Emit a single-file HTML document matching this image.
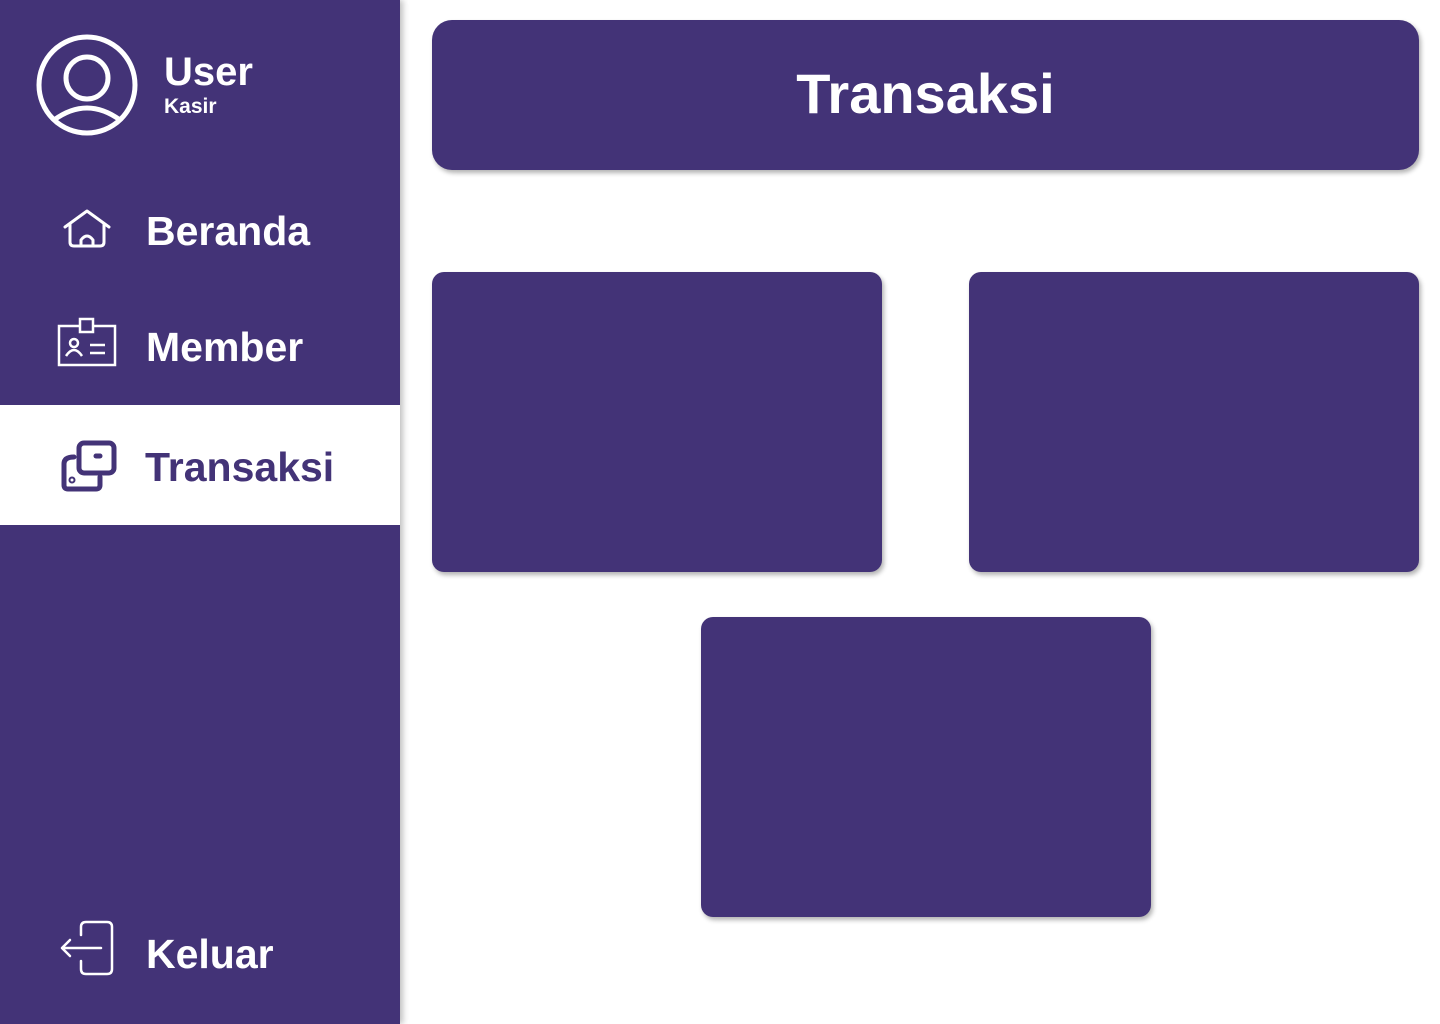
<!DOCTYPE html>
<html><head><meta charset="utf-8"><style>
*{margin:0;padding:0;box-sizing:border-box}
body{width:1440px;height:1024px;background:#fff;position:relative;overflow:hidden;font-family:"Liberation Sans",sans-serif;font-weight:bold}
.side{position:absolute;left:0;top:0;width:400px;height:1024px;background:#433377;box-shadow:3px 0 6px rgba(0,0,0,.25)}
.active{position:absolute;left:0;top:405px;width:400px;height:120px;background:#fff}
.t{position:absolute;color:#fff;white-space:nowrap;line-height:1}
.box{position:absolute;background:#433377;border-radius:12px;box-shadow:2px 3px 5px rgba(0,0,0,.3)}
svg{position:absolute}
</style></head><body>
<div class="side"></div>
<div class="active"></div>
<svg style="left:36px;top:34px" width="102" height="102" viewBox="0 0 102 102" fill="none" stroke="#fff" stroke-width="5">
<circle cx="51" cy="51" r="48"/><circle cx="51" cy="44" r="21"/><path d="M18 86 Q51 62 84 86"/></svg>
<div class="t" style="left:164px;top:52px;font-size:40px">User</div>
<div class="t" style="left:164px;top:96px;font-size:21px">Kasir</div>
<svg style="left:62px;top:208px" width="50" height="42" viewBox="0 0 50 42" fill="none" stroke="#fff" stroke-width="3" stroke-linejoin="round" stroke-linecap="round">
<path d="M3 19 L25 3 L47 19"/><path d="M8 16 V34 Q8 38 12 38 H38 Q42 38 42 34 V16"/><path d="M19 38 V32 Q25 24 31 32 V38"/></svg>
<div class="t" style="left:146px;top:211px;font-size:41px">Beranda</div>
<svg style="left:57px;top:317px" width="60" height="50" viewBox="0 0 60 50" fill="none" stroke="#fff" stroke-width="2.5">
<rect x="2" y="9" width="56" height="39"/><rect x="23" y="2" width="13" height="13" fill="#433377"/><circle cx="17" cy="26" r="4"/><path d="M9 39 Q17 27 25 39"/><path d="M33 28 H48 M33 36 H48"/></svg>
<div class="t" style="left:146px;top:327px;font-size:41px">Member</div>
<svg style="left:60px;top:440px" width="58" height="52" viewBox="0 0 58 52" fill="none" stroke="#433377" stroke-width="5" stroke-linecap="round" stroke-linejoin="round">
<rect x="19" y="3" width="35" height="30" rx="5"/><path d="M36 16 h4"/><path d="M14 17 Q4 17 4 24 V45 Q4 49 8 49 H36 Q40 49 40 45 V37"/><circle cx="12" cy="40" r="1"/></svg>
<div class="t" style="left:145px;top:447px;font-size:41px;color:#433377">Transaksi</div>
<svg style="left:58px;top:919px" width="58" height="58" viewBox="0 0 58 58" fill="none" stroke="#fff" stroke-width="2.5" stroke-linecap="round" stroke-linejoin="round">
<path d="M23 16 V8 Q23 3 28 3 H49 Q54 3 54 8 V50 Q54 55 49 55 H28 Q23 55 23 50 V42"/><path d="M43 29 H4 M12 21 L4 29 L12 37"/></svg>
<div class="t" style="left:146px;top:934px;font-size:41px">Keluar</div>
<div class="box" style="left:432px;top:20px;width:987px;height:150px;border-radius:20px"></div>
<div class="t" style="left:432px;width:987px;text-align:center;top:66px;font-size:56px">Transaksi</div>
<div class="box" style="left:432px;top:272px;width:450px;height:300px"></div>
<div class="box" style="left:969px;top:272px;width:450px;height:300px"></div>
<div class="box" style="left:701px;top:617px;width:450px;height:300px"></div>
</body></html>
